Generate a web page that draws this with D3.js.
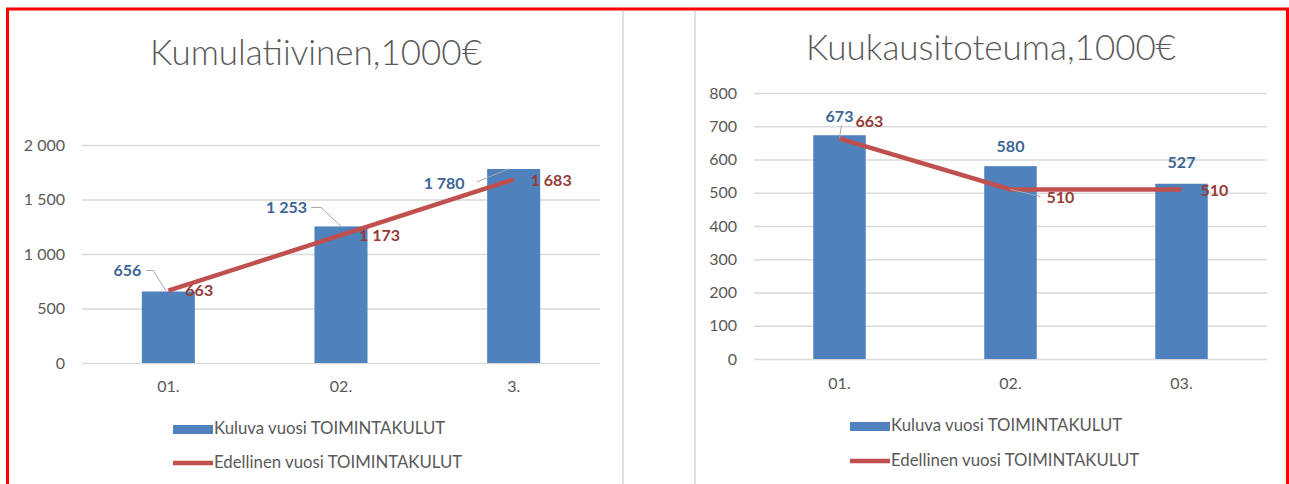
<!DOCTYPE html>
<html lang="fi">
<head>
  <meta charset="utf-8">
  <title>Toimintakulut</title>
  <style>
    body { margin: 0; background: #fff; }
    svg { display: block; font-family: Lato, "Open Sans", sans-serif; }
  </style>
</head>
<body>
  <svg id="chart" width="1289" height="484"></svg>
  <script src="https://d3js.org/d3.v7.min.js"></script>
  <script>

    // kumulatiivinen (left) chart
    var cumCategories = ["01.", "02.", "3."];
    var cumCurrent = [656, 1253, 1780];
    var cumPrevious = [663, 1173, 1683];
    var cumTicks = [0, 500, 1000, 1500, 2000];

    // kuukausitoteuma (right) chart
    var monthCategories = ["01.", "02.", "03."];
    var monthCurrent = [673, 580, 527];
    var monthPrevious = [663, 510, 510];
    var monthTicks = [0, 100, 200, 300, 400, 500, 600, 700, 800];

    var seriesNames = ["Kuluva vuosi TOIMINTAKULUT", "Edellinen vuosi TOIMINTAKULUT"];

    var locale = d3.formatLocale({ decimal: ",", thousands: " ", grouping: [3], currency: ["", "€"] });
    var fmt = locale.format(",d");

    var blue = "#4f81bd", red = "#c0504d";
    var blueText = "#3d6596", redText = "#963b38";
    var grey = "#595959";

    var svg = d3.select("#chart");

    // frame
    svg.append("rect").attr("x", 7.5).attr("y", 9).attr("width", 1280).attr("height", 490)
      .attr("fill", "none").attr("stroke", "#ff0000").attr("stroke-width", 3);
    svg.append("line").attr("x1", 623).attr("x2", 623).attr("y1", 11).attr("y2", 484)
      .attr("stroke", "#d9d9d9").attr("stroke-width", 1.5);
    svg.append("line").attr("x1", 695).attr("x2", 695).attr("y1", 11).attr("y2", 484)
      .attr("stroke", "#d9d9d9").attr("stroke-width", 1.5);
    svg.append("line").attr("x1", 1285).attr("x2", 1285).attr("y1", 11).attr("y2", 484)
      .attr("stroke", "#eeeeee").attr("stroke-width", 1);

    function drawChart(opt) {
      var g = svg.append("g");

      var x = d3.scaleBand()
        .domain(opt.categories)
        .range(opt.xRange)
        .paddingInner(0.693)
        .paddingOuter(0.3465);

      var y = d3.scaleLinear()
        .domain([0, opt.max])
        .range(opt.yRange);

      g.append("text")
        .attr("x", opt.titleX).attr("y", opt.titleY)
        .attr("text-anchor", "middle")
        .style("font-size", "35px")
        .style("font-weight", 300)
        .style("fill", grey)
        .text(opt.title);

      var yAxis = g.append("g")
        .attr("transform", "translate(" + opt.xRange[0] + ",0)")
        .call(d3.axisLeft(y).tickValues(opt.ticks).tickFormat(fmt)
          .tickSize(-(opt.xRange[1] - opt.xRange[0])).tickPadding(17));
      yAxis.select(".domain").remove();
      yAxis.selectAll(".tick line").attr("stroke", "#d9d9d9").attr("stroke-width", 1.3);
      yAxis.selectAll(".tick text").style("font-size", "16px").style("fill", grey)
        .style("font-family", "Lato, sans-serif");

      g.selectAll(".xlab")
        .data(opt.categories)
        .enter().append("text")
        .attr("class", "xlab")
        .attr("x", function(d) { return x(d) + x.bandwidth() / 2; })
        .attr("y", opt.xLabelY)
        .attr("text-anchor", "middle")
        .style("font-size", "16px")
        .style("fill", grey)
        .text(function(d) { return d; });

      g.selectAll(".bar")
        .data(opt.current)
        .enter().append("rect")
        .attr("class", "bar")
        .attr("x", function(d, i) { return x(opt.categories[i]); })
        .attr("y", function(d) { return y(d); })
        .attr("width", x.bandwidth())
        .attr("height", function(d) { return y(0) - y(d); })
        .attr("fill", blue);

      var line = d3.line()
        .x(function(d, i) { return x(opt.categories[i]) + x.bandwidth() / 2; })
        .y(function(d) { return y(d); });

      g.append("path")
        .datum(opt.previous)
        .attr("d", line)
        .attr("fill", "none")
        .attr("stroke", red)
        .attr("stroke-width", 4.5);

      // data labels with leader lines
      function labels(values, offsets, color, anchor) {
        values.forEach(function(v, i) {
          var cx = x(opt.categories[i]) + x.bandwidth() / 2;
          var cy = y(v);
          var o = offsets[i];
          var lx = cx + o[0], ly = cy + o[1];
          if (o[2]) {
            g.append("polyline")
              .attr("points", o[2].map(function(p) { return [cx + p[0], cy + p[1]].join(","); }).join(" "))
              .attr("fill", "none")
              .attr("stroke", "#a6a6a6")
              .attr("stroke-width", 1);
          }
          g.append("text")
            .attr("x", lx).attr("y", ly)
            .attr("dy", "0.35em")
            .attr("text-anchor", o[3] || anchor)
            .style("font-size", "16px")
            .style("font-weight", "bold")
            .style("fill", color)
            .text(fmt(v));
        });
      }
      labels(opt.current, opt.curLabels, blueText, "end");
      labels(opt.previous, opt.prevLabels, redText, "start");

      // legend
      var lg = g.append("g").attr("transform", "translate(" + opt.legendX + ",0)");
      lg.append("rect").attr("x", 0).attr("y", opt.legendY[0] - 9).attr("width", 40).attr("height", 9)
        .attr("fill", blue);
      lg.append("text").attr("x", 41).attr("y", opt.legendY[0])
        .style("font-size", "16.8px").style("fill", grey).text(seriesNames[0]);
      lg.append("line").attr("x1", 0).attr("x2", 40)
        .attr("y1", opt.legendY[1] - 5).attr("y2", opt.legendY[1] - 5)
        .attr("stroke", red).attr("stroke-width", 4.5);
      lg.append("text").attr("x", 41).attr("y", opt.legendY[1])
        .style("font-size", "16.8px").style("fill", grey).text(seriesNames[1]);
    }

    drawChart({
      title: "Kumulatiivinen,1000€",
      titleX: 316, titleY: 65,
      categories: cumCategories,
      current: cumCurrent,
      previous: cumPrevious,
      ticks: cumTicks,
      max: 2000,
      xRange: [82, 600],
      yRange: [363, 145],
      xLabelY: 392,
      curLabels: [
        [-27, -21, [[-22, -21], [-15, -21], [-2, 0]]],
        [-34, -19, [[-30, -19], [-20, -19], [0, 0]]],
        [-49, 14, [[-37, 13], [-5, 0]]]
      ],
      prevLabels: [[17, 0], [18, 0], [17, 1]],
      legendX: 173,
      legendY: [434, 468]
    });

    drawChart({
      title: "Kuukausitoteuma,1000€",
      titleX: 991, titleY: 60,
      categories: monthCategories,
      current: monthCurrent,
      previous: monthPrevious,
      ticks: monthTicks,
      max: 800,
      xRange: [754, 1267],
      yRange: [359, 93],
      xLabelY: 389,
      curLabels: [
        [0, -19, [[2, -10], [0, 3]], "middle"],
        [0, -20, null, "middle"],
        [0, -21, null, "middle"]
      ],
      prevLabels: [[16, -17], [36, 8, [[0, 0], [30, 7]]], [19, 1]],
      legendX: 850,
      legendY: [431, 466]
    });

  </script>
</body>
</html>
